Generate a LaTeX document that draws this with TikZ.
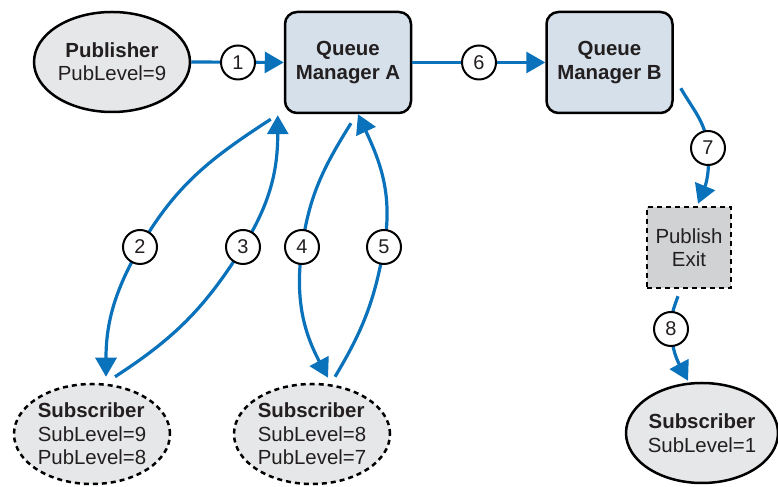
\documentclass[tikz,border=0pt]{standalone}
\usepackage{fontspec}
\setmainfont{Liberation Sans}
\usetikzlibrary{arrows.meta,shapes.geometric,calc}
\definecolor{flowblue}{HTML}{0A72BA}
\definecolor{textdark}{HTML}{231F20}
\definecolor{ellfill}{HTML}{E6E7E8}
\definecolor{qmfill}{HTML}{D6E0EA}
\definecolor{exitfill}{HTML}{D1D2D4}
\begin{document}
\begin{tikzpicture}[x=1bp,y=1bp,
  every node/.style={font=\fontsize{20.5}{23.5}\selectfont, text=textdark},
  ell/.style={ellipse, draw=black, line width=2.5bp, fill=ellfill, minimum width=156bp, minimum height=100bp, inner sep=-8bp, align=center},
  dashell/.style={ell, dash pattern=on 5bp off 4bp, align=left},
  qm/.style={draw=black, line width=2.5bp, fill=qmfill, rounded corners=12bp, minimum width=126bp, minimum height=101bp, align=center, font=\fontsize{20.5}{24}\selectfont\bfseries},
  exitbox/.style={draw=black, line width=2.5bp, fill=exitfill, dash pattern=on 5bp off 4bp, minimum width=84bp, minimum height=81bp, align=center, inner sep=0pt},
  num/.style={circle, draw=black, line width=2bp, fill=white, minimum size=34bp, inner sep=0pt, font=\fontsize{20}{20}\selectfont},
  flow/.style={draw=flowblue, line width=3.2bp, -{Triangle[length=19bp,width=21bp]}}]
\useasboundingbox (0,0) rectangle (778,487);

% main nodes
\node[ell] (pub) at (112,425) {\textbf{Publisher}\\PubLevel=9};
\node[qm] (qma) at (348,424.5) {Queue\\Manager A};
\node[qm] (qmb) at (609.5,424.5) {Queue\\Manager B};
\node[exitbox] (pe) at (689,239.5) {Publish\\Exit};
\node[dashell] (sub1) at (92,53) {\textbf{Subscriber}\\SubLevel=9\\PubLevel=8};
\node[dashell] (sub2) at (312,53) {\textbf{Subscriber}\\SubLevel=8\\PubLevel=7};
\node[ell, minimum width=152bp] (sub3) at (702,54) {\textbf{Subscriber}\\SubLevel=1};

% label positions
\coordinate (c1) at (238,424.5);
\coordinate (c6) at (479,424.5);
\coordinate (c7) at (708,339);
\coordinate (c8) at (671,158);
\coordinate (c2) at (140,240);
\coordinate (c3) at (243,240);
\coordinate (c4) at (302,240);
\coordinate (c5) at (384,240);

% connector ends
\coordinate (s2) at ($(qma.south west)+(-13,-5)$);
\coordinate (e2) at ($(sub1.north)+(14,6)$);
\coordinate (s3) at ($(sub1.north)+(23,6)$);
\coordinate (e3) at ($(qma.south west)+(-6,-1)$);
\coordinate (s4) at ($(qma.south)+(3,-9)$);
\coordinate (e4) at ($(sub2.north)+(16,5)$);
\coordinate (s5) at ($(sub2.north)+(23,6)$);
\coordinate (e5) at ($(qma.south)+(10,0)$);
\coordinate (s7) at ($(qmb.south east)+(7,26)$);
\coordinate (e7) at ($(pe.north)+(9,2)$);
\coordinate (s8) at ($(pe.south)+(-11,-7)$);
\coordinate (e8) at ($(sub3.north)+(-14,1)$);

% connectors
\draw[flow] (pub.east) -- (qma.west);
\draw[flow] (qma.east) -- (qmb.west);
\draw[flow] (s2) to[out=213,in=60] (c2) to[out=240,in=90] (e2);
\draw[flow] (s3) to[out=33,in=238] (c3) to[out=58,in=270] (e3);
\draw[flow] (s4) to[out=238,in=82] (c4) to[out=262,in=118] (e4);
\draw[flow] (s5) to[out=59,in=260] (c5) to[out=80,in=295] (e5);
\draw[flow] (s7) to[out=300,in=95] (c7) to[out=275,in=68] (e7);
\draw[flow] (s8) to[out=250,in=92] (c8) to[out=272,in=118] (e8);

% number labels
\node[num] (n1) at (c1) {1};
\node[num] (n2) at (c2) {2};
\node[num] (n3) at (c3) {3};
\node[num] (n4) at (c4) {4};
\node[num] (n5) at (c5) {5};
\node[num] (n6) at (c6) {6};
\node[num] (n7) at (c7) {7};
\node[num] (n8) at (c8) {8};
\end{tikzpicture}
\end{document}
